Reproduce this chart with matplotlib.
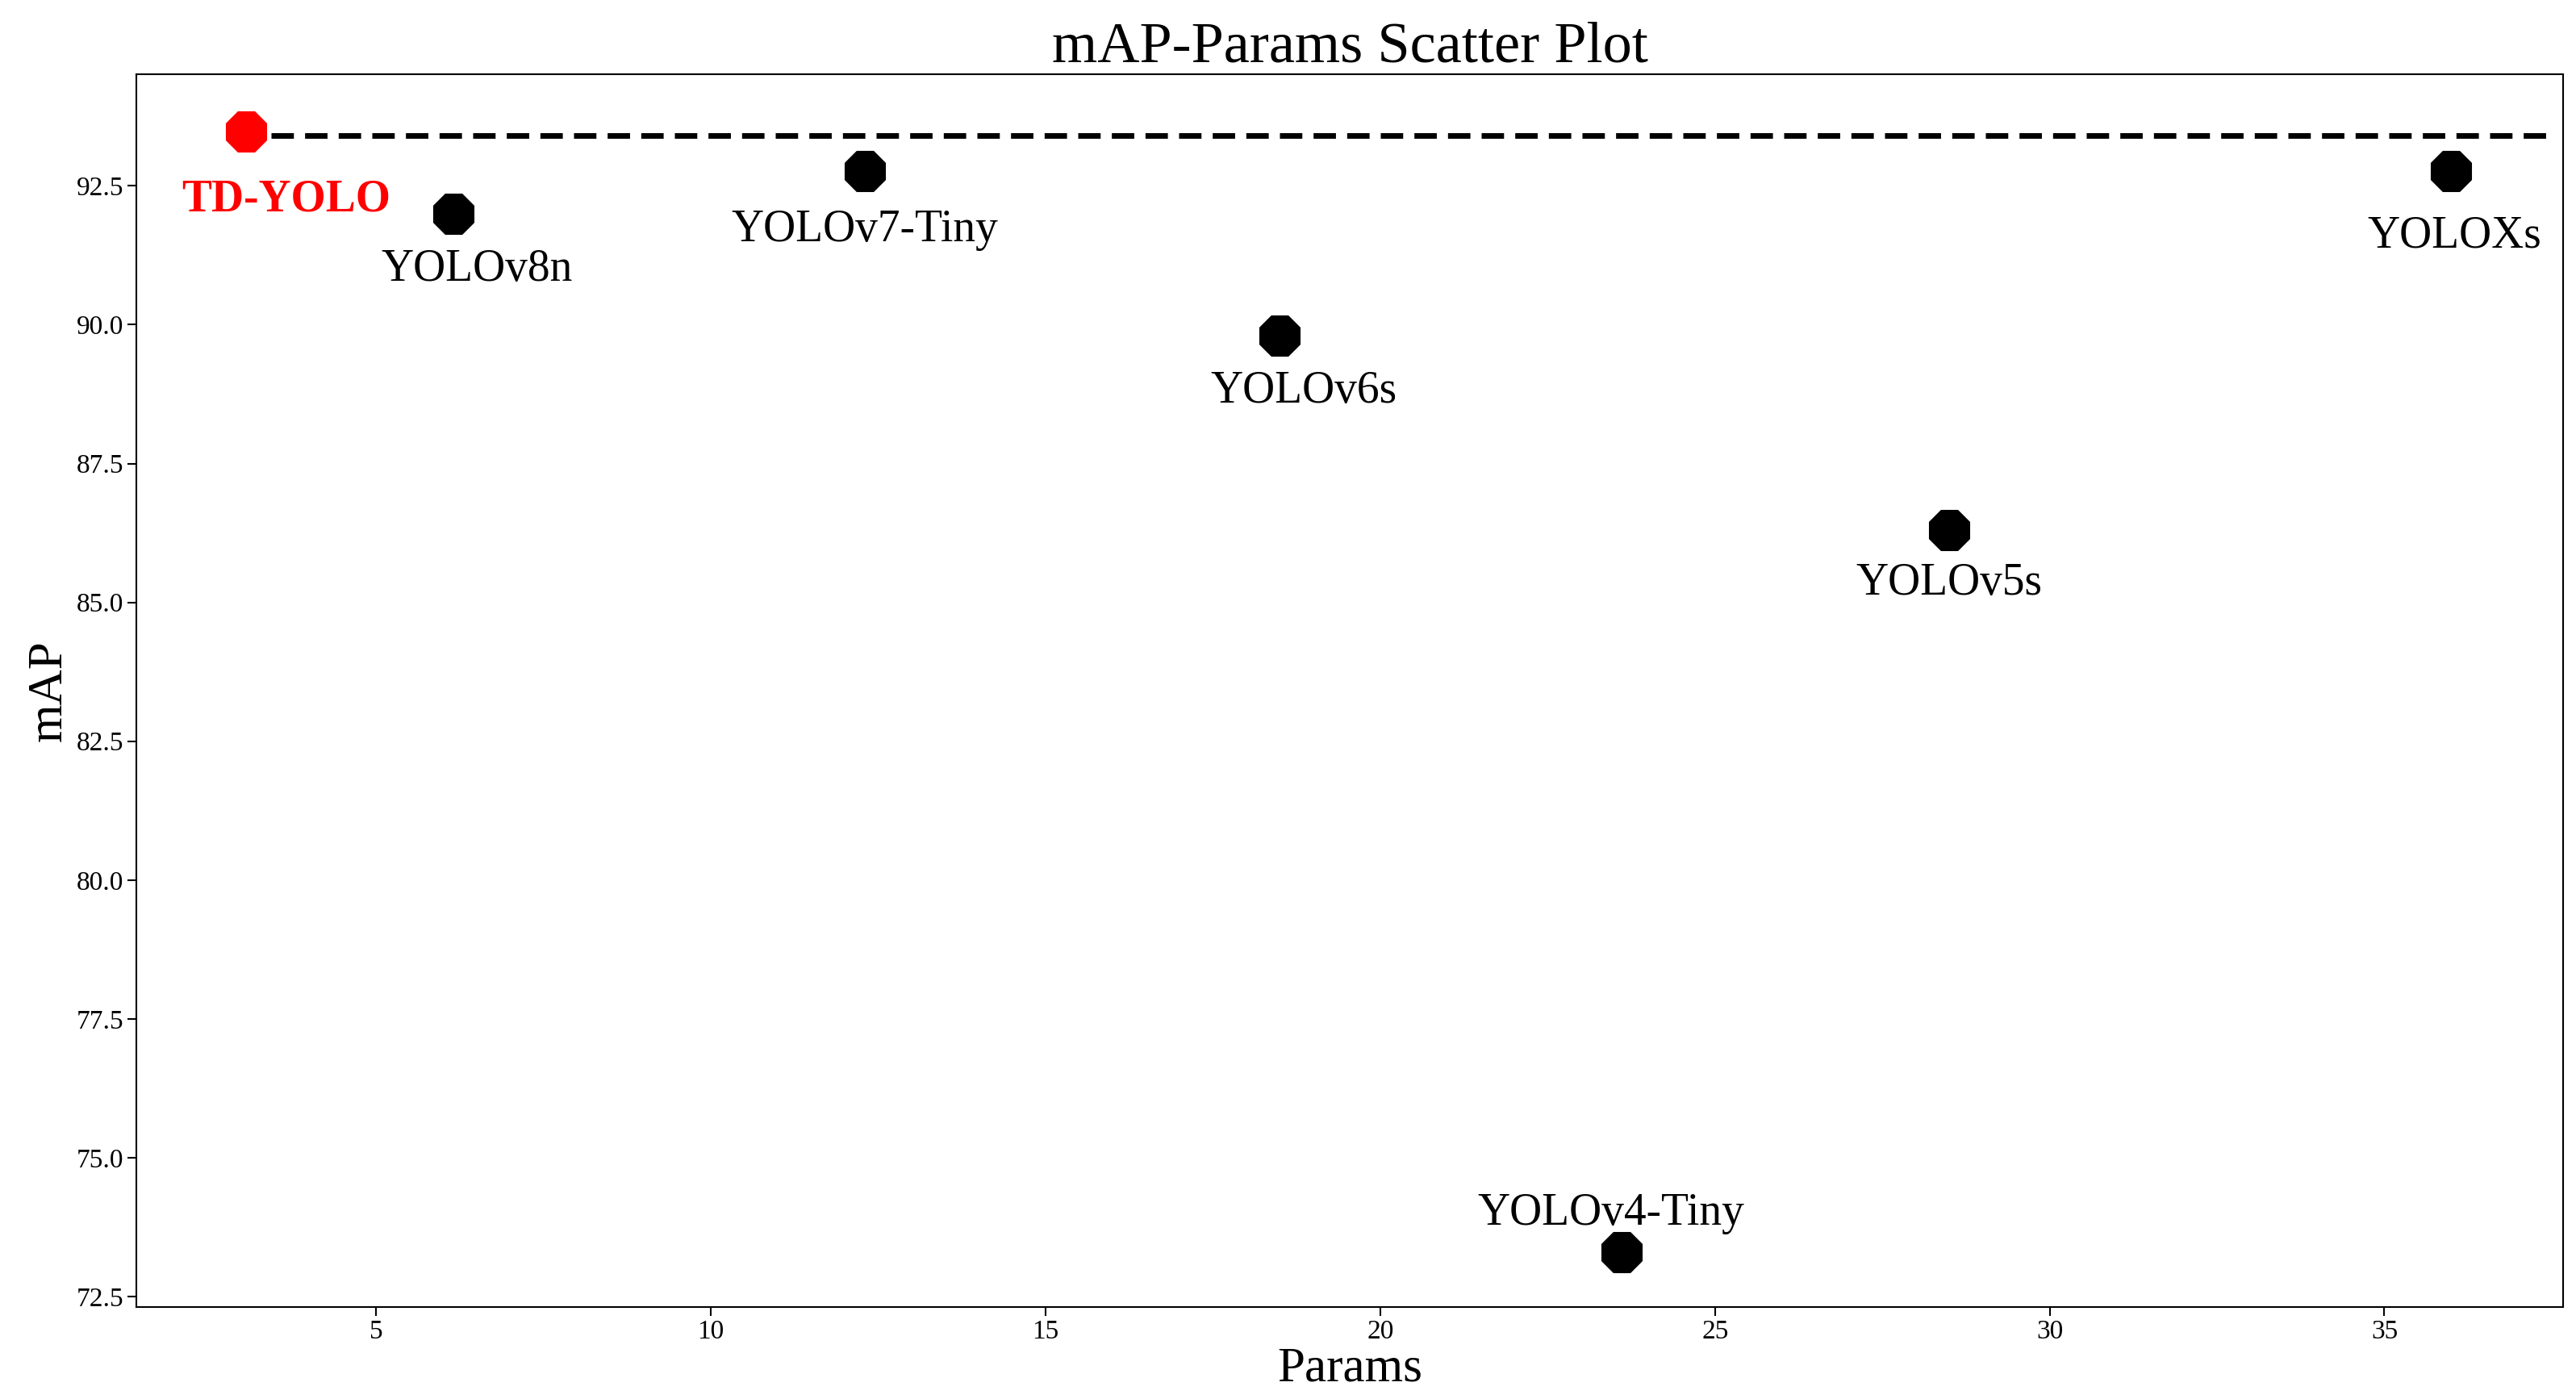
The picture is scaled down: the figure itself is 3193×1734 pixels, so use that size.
import matplotlib.pyplot as plt

plt.rcParams['font.family'] = ['Liberation Serif', 'DejaVu Serif']

models = ['TD-YOLO', 'YOLOv8n', 'YOLOv7-Tiny', 'YOLOv6s', 'YOLOv5s', 'YOLOXs', 'YOLOv4-Tiny']
params = [3.06, 6.15, 12.3, 18.5, 28.5, 36.0, 23.6]
mAP = [93.48, 92.0, 92.77, 89.8, 86.3, 92.77, 73.3]
# label anchor (x, y)
label_x = [2.1, 6.5, 12.3, 18.85, 28.5, 36.05, 23.45]
label_y = [92.25, 91.0, 91.7, 88.8, 85.35, 91.6, 74.0]

fig, ax = plt.subplots(figsize=(31.93, 17.34), dpi=100)

for i, m in enumerate(models):
    color = 'red' if m == 'TD-YOLO' else 'black'
    ax.scatter(params[i], mAP[i], s=1500, marker='8', color=color, zorder=3)
    if m == 'TD-YOLO':
        ax.text(label_x[i], label_y[i], m, color='red', fontsize=40, fontweight='bold',
                ha='left', va='center')
    else:
        ax.text(label_x[i], label_y[i], m, color='black', fontsize=40, ha='center', va='center')

ax.plot([3.43, 37.5], [93.4, 93.4], linestyle='--', color='black', linewidth=5, dashes=(4, 2))

ax.set_xlim(1.42, 37.67)
ax.set_ylim(72.32, 94.51)
ax.set_yticks([72.5, 75.0, 77.5, 80.0, 82.5, 85.0, 87.5, 90.0, 92.5])
ax.tick_params(labelsize=24, length=8, width=1.5)
ax.set_xlabel('Params', fontsize=44, labelpad=2)
ax.set_ylabel('mAP', fontsize=44)
ax.set_title('mAP-Params Scatter Plot', fontsize=52, pad=6)
for s in ax.spines.values():
    s.set_linewidth(1.5)

fig.subplots_adjust(left=0.053, right=0.995, top=0.947, bottom=0.066)
fig.savefig('out.png')
